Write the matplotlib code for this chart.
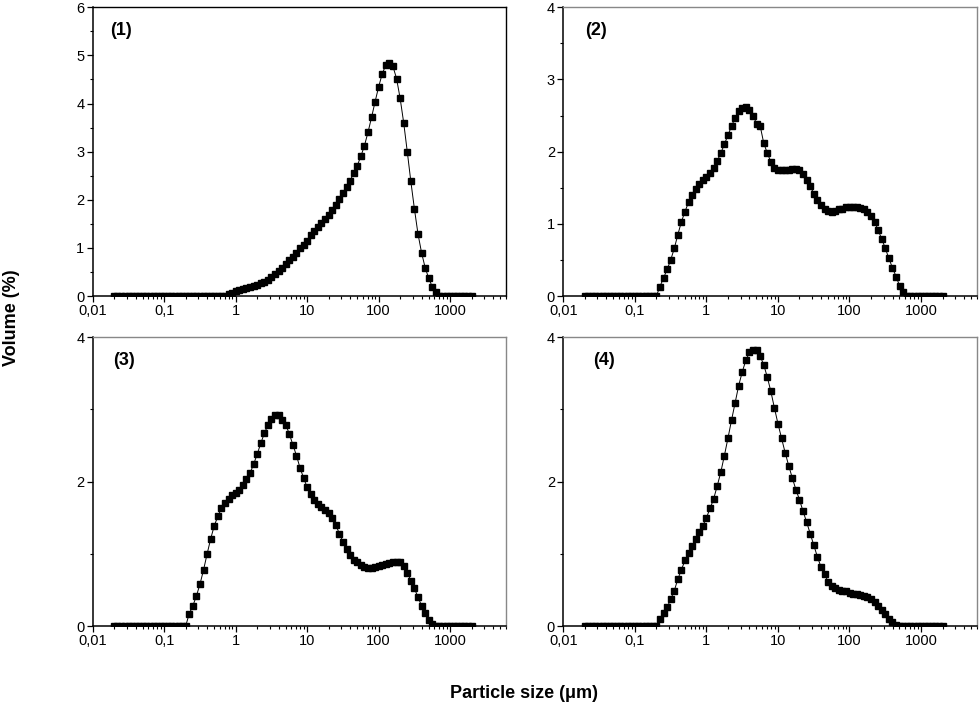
import numpy as np
import matplotlib
matplotlib.use("Agg")
import matplotlib.pyplot as plt
from matplotlib.ticker import FixedLocator, FixedFormatter, LogLocator, NullFormatter, MultipleLocator

plt.rcParams["font.family"] = ["Liberation Sans", "DejaVu Sans"]

# classes granulométricas (µm), 20 por década
tamanho = [0.020, 0.022, 0.025, 0.028, 0.032, 0.036, 0.040, 0.045, 0.050, 0.056,
           0.063, 0.071, 0.080, 0.089, 0.100, 0.112, 0.126, 0.142, 0.159, 0.178,
           0.200, 0.224, 0.252, 0.283, 0.317, 0.356, 0.399, 0.448, 0.502, 0.564,
           0.632, 0.710, 0.796, 0.893, 1.002, 1.125, 1.262, 1.416, 1.589, 1.783,
           2.000, 2.244, 2.518, 2.825, 3.170, 3.557, 3.991, 4.477, 5.024, 5.637,
           6.325, 7.096, 7.962, 8.934, 10.024, 11.247, 12.619, 14.159, 15.887, 17.825,
           20.000, 22.440, 25.179, 28.251, 31.698, 35.566, 39.905, 44.774, 50.238, 56.368,
           63.246, 70.963, 79.621, 89.337, 100.237, 112.468, 126.191, 141.589, 158.866, 178.250,
           200.000, 224.404, 251.785, 282.508, 316.979, 355.656, 399.052, 447.744, 502.377, 563.677,
           632.456, 709.627, 796.214, 893.367, 1002.374, 1124.683, 1261.915, 1415.892, 1588.656, 1782.502,
           2000.000]

vol1 = [0]*31 + [0.01, 0.04, 0.07, 0.10, 0.12, 0.14, 0.16, 0.18, 0.20,
                 0.23, 0.26, 0.30, 0.34, 0.39, 0.45, 0.51, 0.58, 0.66, 0.74,
                 0.82, 0.90, 0.99, 1.07, 1.15, 1.26, 1.35, 1.43, 1.51, 1.60,
                 1.69, 1.79, 1.90, 2.02, 2.14, 2.27, 2.40, 2.55, 2.71, 2.90,
                 3.12, 3.40, 3.71, 4.04, 4.35, 4.62, 4.80, 4.85, 4.77, 4.52,
                 4.11, 3.60, 3.00, 2.38, 1.81, 1.29, 0.90, 0.59, 0.37, 0.19,
                 0.08, 0.01] + [0]*9

vol2 = [0]*21 + [0.13, 0.25, 0.37, 0.50, 0.66, 0.85, 1.03, 1.17, 1.30,
                 1.40, 1.48, 1.55, 1.61, 1.65, 1.70, 1.78, 1.87, 1.98, 2.10,
                 2.23, 2.35, 2.47, 2.56, 2.61, 2.62, 2.58, 2.50, 2.39, 2.36,
                 2.12, 1.98, 1.86, 1.78, 1.75, 1.74, 1.74, 1.75, 1.76, 1.76,
                 1.74, 1.69, 1.61, 1.52, 1.42, 1.33, 1.26, 1.21, 1.18, 1.17,
                 1.18, 1.20, 1.21, 1.23, 1.24, 1.24, 1.24, 1.22, 1.20, 1.16,
                 1.11, 1.03, 0.91, 0.79, 0.66, 0.52, 0.39, 0.27, 0.14, 0.05] + [0]*11

vol3 = [0]*21 + [0.17, 0.28, 0.42, 0.58, 0.78, 1.00, 1.21, 1.39, 1.52,
                 1.63, 1.70, 1.76, 1.81, 1.84, 1.88, 1.95, 2.04, 2.12, 2.24,
                 2.38, 2.53, 2.67, 2.78, 2.87, 2.92, 2.92, 2.86, 2.79, 2.66,
                 2.51, 2.36, 2.19, 2.05, 1.92, 1.83, 1.75, 1.69, 1.65, 1.61,
                 1.56, 1.49, 1.40, 1.28, 1.17, 1.06, 0.98, 0.92, 0.88, 0.85,
                 0.82, 0.81, 0.81, 0.82, 0.83, 0.85, 0.86, 0.87, 0.88, 0.89,
                 0.88, 0.83, 0.74, 0.63, 0.52, 0.40, 0.28, 0.18, 0.09, 0.03] + [0]*11

vol4 = [0]*21 + [0.10, 0.18, 0.26, 0.37, 0.49, 0.65, 0.78, 0.91, 1.01,
                 1.11, 1.21, 1.30, 1.39, 1.50, 1.63, 1.76, 1.94, 2.13, 2.36,
                 2.60, 2.85, 3.09, 3.33, 3.52, 3.68, 3.79, 3.82, 3.82, 3.74,
                 3.62, 3.45, 3.25, 3.02, 2.80, 2.60, 2.40, 2.22, 2.05, 1.89,
                 1.75, 1.59, 1.44, 1.28, 1.12, 0.96, 0.82, 0.72, 0.61, 0.56,
                 0.52, 0.50, 0.48, 0.48, 0.46, 0.45, 0.44, 0.43, 0.41, 0.40,
                 0.37, 0.33, 0.28, 0.22, 0.16, 0.10, 0.05, 0.01] + [0]*13

series  = [vol1, vol2, vol3, vol4]
rotulos = ["(1)", "(2)", "(3)", "(4)"]
ymax    = [6, 4, 4, 4]
ymaj    = [1, 1, 2, 2]
ymin_   = [0.5, 0.5, 1, 1]

xticks  = [0.01, 0.1, 1, 10, 100, 1000]
xlabels = ["0,01", "0,1", "1", "10", "100", "1000"]

W, H = 980, 713
caixas = [(92.7, 7.3, 505.7, 296), (563.3, 7.3, 976.7, 296),
          (92.7, 337.3, 505.7, 626), (563.3, 337.3, 976.7, 626)]
pos_rot = [0.042, 0.052, 0.05, 0.072]

fig = plt.figure(figsize=(W/100, H/100), dpi=100)
for k in range(4):
    x0, y0, x1, y1 = caixas[k]
    ax = fig.add_axes([x0/W, 1 - y1/H, (x1-x0)/W, (y1-y0)/H])
    ax.plot(tamanho, series[k], color="black", lw=0.7, marker="s", ms=4.5,
            mec="black", mfc="black")
    ax.set_xscale("log")
    ax.set_xlim(0.01, 6000)
    ax.set_ylim(0, ymax[k])
    ax.xaxis.set_major_locator(FixedLocator(xticks))
    ax.xaxis.set_major_formatter(FixedFormatter(xlabels))
    ax.xaxis.set_minor_locator(LogLocator(base=10, subs=np.arange(2, 10), numticks=20))
    ax.xaxis.set_minor_formatter(NullFormatter())
    ax.yaxis.set_major_locator(MultipleLocator(ymaj[k]))
    ax.yaxis.set_minor_locator(MultipleLocator(ymin_[k]))
    ax.tick_params(which="major", direction="out", length=4, width=0.9, labelsize=10.5, pad=2)
    ax.tick_params(which="minor", direction="out", length=2.5, width=0.8)
    ax.tick_params(top=False, right=False, which="both")
    for s in ["left", "bottom"]:
        ax.spines[s].set_color("black")
        ax.spines[s].set_linewidth(1.1)
    cor = "black" if k == 0 else "#888888"
    for s in ["top", "right"]:
        ax.spines[s].set_color(cor)
        ax.spines[s].set_linewidth(1.0)
    ax.text(pos_rot[k], 0.95, rotulos[k], transform=ax.transAxes, fontsize=13,
            fontweight="bold", va="top", ha="left")

fig.text(0.012, 0.555, "Volume (%)", rotation=90, fontsize=13, fontweight="bold",
         ha="center", va="center")
fig.text(0.535, 0.027, "Particle size (μm)", fontsize=13, fontweight="bold",
         ha="center", va="center")

fig.savefig("out.png", dpi=100)
plt.close()
